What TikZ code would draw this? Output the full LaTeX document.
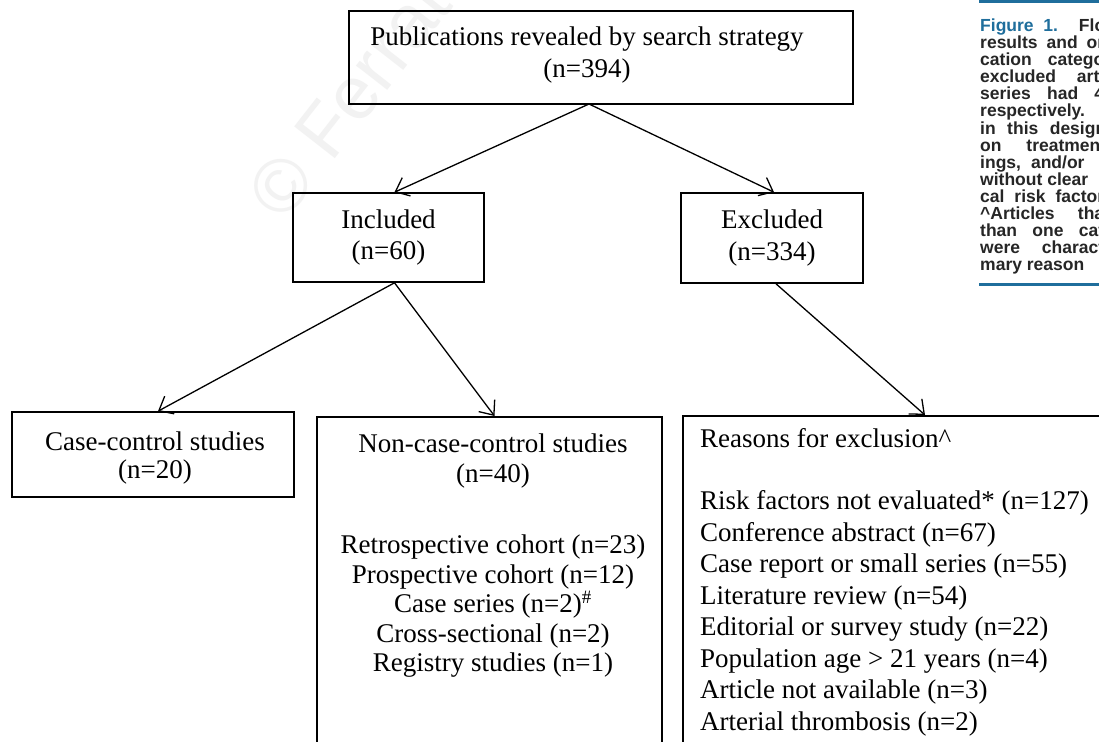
\documentclass[tikz,border=0pt]{standalone}
\usepackage{fontspec}
\setmainfont{Liberation Serif}
\newfontfamily\capfont{Liberation Sans}
\usepackage{xcolor}
\usetikzlibrary{arrows.meta,calc}
\definecolor{capblue}{HTML}{1F6E9C}

\begin{document}
\begin{tikzpicture}[x=1pt,y=-1pt,
    box/.style={draw,line width=1.6pt,rectangle,inner sep=0pt},
    txt/.style={align=center,inner sep=0pt,font=\fontsize{27}{31.5}\selectfont},
    arr/.style={line width=1.3pt,-{Straight Barb[length=12pt,width=20pt,line width=1.3pt]}},
    capline/.style={anchor=base west,inner sep=0pt,text=black!85,font=\capfont\bfseries\fontsize{17.5}{17}\selectfont}]
    % Page
    \clip (0,0) rectangle (1099,741);
    \fill[white] (0,0) rectangle (1099,741);

    % Watermark
    \node[rotate=52,anchor=base west,text=black!5,font=\capfont\fontsize{75}{75}\selectfont] (wmark) at (282,226) {© Ferrata};

    % Search box
    \node[box,minimum width=504pt,minimum height=93pt] (search) at (601,57.5) {};
    \node[txt] (searchtxt) at (587,55) {Publications revealed by search strategy\\(n=394)};
    \coordinate (apex) at (589,104);

    % Included / excluded
    \node[box,txt,minimum width=191pt,minimum height=89pt] (incl) at (388.5,237.5) {Included\\(n=60)};
    \node[box,txt,minimum width=182pt,minimum height=90pt] (excl) at (772,238) {Excluded\\(n=334)};

    % Study types
    \node[box,minimum width=282pt,minimum height=85pt] (cc) at (153,454.5) {};
    \node[txt,font=\fontsize{27}{28}\selectfont] (cctxt) at (155,458) {Case-control studies\\(n=20)};
    \node[box,anchor=north,minimum width=345pt,minimum height=400pt] (ncc) at (489.5,416) {};
    \node[txt,font=\fontsize{27}{29.5}\selectfont] (ncctxt) at (493,556) {Non-case-control studies\\(n=40)\\[42pt]
        Retrospective cohort (n=23)\\Prospective cohort (n=12)\\Case series (n=2)\textsuperscript{\#}\\
        Cross-sectional (n=2)\\Registry studies (n=1)};

    % Exclusion reasons
    \node[box,anchor=north west,minimum width=500pt,minimum height=400pt] (why) at (682,415) {};
    \node[txt,align=left,anchor=west] (whytxt) at (700,582) {Reasons for exclusion\textasciicircum\\[31pt]
        Risk factors not evaluated* (n=127)\\Conference abstract (n=67)\\Case report or small series (n=55)\\
        Literature review (n=54)\\Editorial or survey study (n=22)\\Population age \textgreater{} 21 years (n=4)\\
        Article not available (n=3)\\Arterial thrombosis (n=2)};

    % Arrows
    \draw[arr] (apex) -- ($(incl.north)+(6,0)$);
    \draw[arr] (apex) -- ($(excl.north)+(2,0)$);
    \draw[arr] ($(incl.south)+(6,0)$) -- ($(cc.north)+(5,0)$);
    \draw[arr] ($(incl.south)+(6,0)$) -- ($(ncc.north)+(5,0)$);
    \draw[arr] ($(excl.south)+(4,0)$) -- ($(why.north west)+(243,0)$);

    % Caption (cut at the right edge)
    \draw[capblue,line width=3pt] (979,2) -- (1099,2);
    \draw[capblue,line width=3pt] (979,284) -- (1099,284);
    \node[capline] (cap1) at (980,32) {\makebox[125pt][s]{\textcolor{capblue}{Figure 1.} Flo}};
    \node[capline] (cap2) at (980,49) {\makebox[124pt][s]{results and or}};
    \node[capline] (cap3) at (980,66) {\makebox[124pt][s]{cation catego}};
    \node[capline] (cap4) at (980,83) {\makebox[124pt][s]{excluded arti}};
    \node[capline] (cap5) at (980,100) {\makebox[124pt][s]{series had 4}};
    \node[capline] (cap6) at (980,117) {respectively.};
    \node[capline] (cap7) at (980,134) {\makebox[126pt][s]{in this design}};
    \node[capline] (cap8) at (980,151) {\makebox[126pt][s]{on treatment}};
    \node[capline] (cap9) at (980,168) {ings,\hspace{10pt}and/or};
    \node[capline] (cap10) at (980,185) {without clear};
    \node[capline] (cap11) at (980,202) {\makebox[124pt][s]{cal risk factor}};
    \node[capline] (cap12) at (980,219) {\makebox[124pt][s]{\textasciicircum Articles tha}};
    \node[capline] (cap13) at (980,236) {\makebox[124pt][s]{than one cat}};
    \node[capline] (cap14) at (980,253) {\makebox[124pt][s]{were charact}};
    \node[capline] (cap15) at (980,270) {mary reason};
\end{tikzpicture}
\end{document}
